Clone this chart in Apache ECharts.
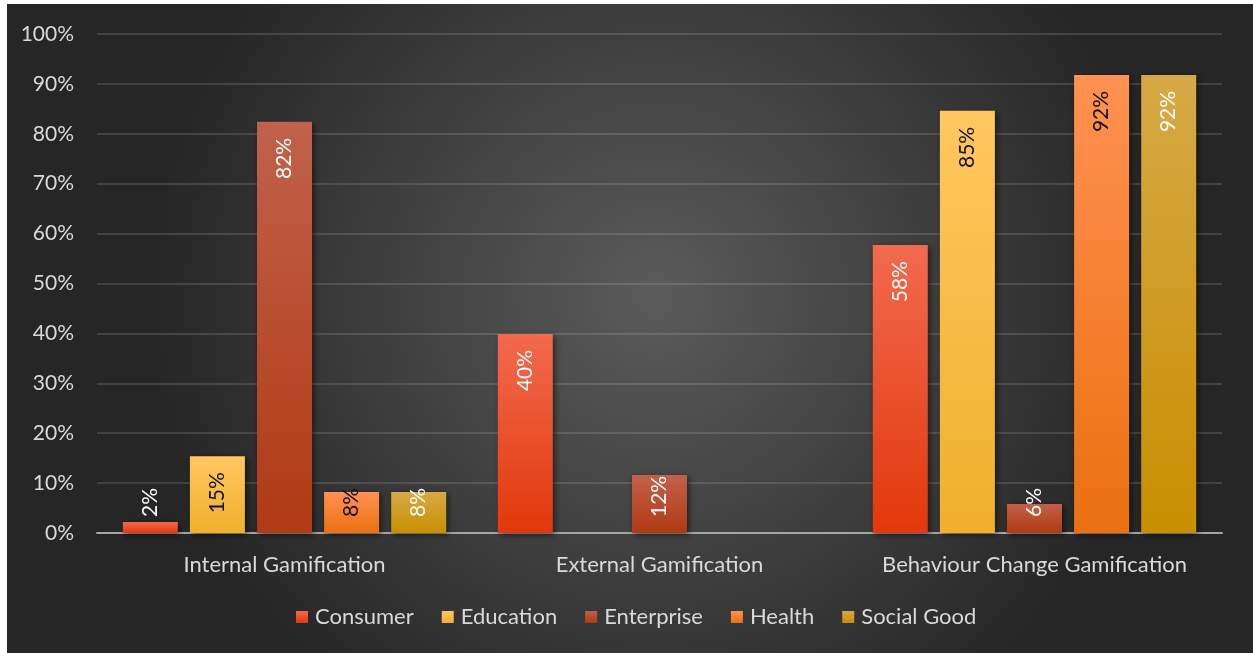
<!DOCTYPE html>
<html>
<head>
<meta charset="utf-8">
<script src="https://cdn.jsdelivr.net/npm/echarts@6/dist/echarts.min.js"></script>
<style>
html,body{margin:0;padding:0;background:#fff;width:1253px;height:653px;overflow:hidden;}
#c{position:absolute;left:7px;top:4px;width:1246px;height:649px;}
</style>
</head>
<body>
<div id="c"></div>
<script>
const categories = ['Internal Gamification', 'External Gamification', 'Behaviour Change Gamification'];
const seriesNames = ['Consumer', 'Education', 'Enterprise', 'Health', 'Social Good'];
const consumer   = [2.2, 39.9, 57.7];
const education  = [15.4, null, 84.6];
const enterprise = [82.4, 11.6, 5.8];
const health     = [8.2, null, 91.8];
const socialGood = [8.2, null, 91.8];
const yTicks = [0, 10, 20, 30, 40, 50, 60, 70, 80, 90, 100];

const values = [consumer, education, enterprise, health, socialGood];
const gradients = [
  ['#f26a4f', '#e2380b'],
  ['#ffc760', '#f0b02c'],
  ['#c1614b', '#b13913'],
  ['#ff9152', '#ec7010'],
  ['#d7a946', '#c88f00']
];
const labelColors = ['#ffffff', '#111111', '#ffffff', '#111111', '#ffffff'];
const FONT = 'Lato';

function grad(c) {
  return new echarts.graphic.LinearGradient(0, 0, 0, 1, [
    {offset: 0, color: c[0]}, {offset: 1, color: c[1]}
  ]);
}

const series = seriesNames.map((name, i) => ({
  name: name,
  type: 'bar',
  barWidth: 55,
  barGap: '22%',
  itemStyle: {
    color: grad(gradients[i]),
    shadowBlur: 6,
    shadowColor: 'rgba(0,0,0,0.55)',
    shadowOffsetX: 2,
    shadowOffsetY: 2
  },
  data: values[i].map(v => {
    if (v === null) return {value: null, label: {show: false}};
    const small = v < 13;
    return {
      value: v,
      label: small
        ? {position: 'insideBottom', distance: 16, align: 'left', verticalAlign: 'middle'}
        : {position: 'insideTop', distance: 16, align: 'right', verticalAlign: 'middle'}
    };
  }),
  label: {
    show: true,
    rotate: 90,
    color: labelColors[i],
    fontFamily: FONT,
    fontSize: 21,
    formatter: p => Math.round(p.value) + '%'
  }
}));

const chart = echarts.init(document.getElementById('c'), null, {renderer: 'canvas'});
chart.setOption({
  backgroundColor: new echarts.graphic.RadialGradient(0.52, 0.45, 0.78, [
    {offset: 0, color: '#5b5b5b'},
    {offset: 1, color: '#262626'}
  ]),
  animation: false,
  textStyle: {fontFamily: FONT},
  grid: {left: 90, right: 31, top: 30, bottom: 120, containLabel: false},
  legend: {
    data: seriesNames,
    bottom: 20,
    left: 284,
    itemWidth: 12,
    itemHeight: 12,
    itemGap: 28,
    icon: 'rect',
    textStyle: {color: '#d9d9d9', fontSize: 22, fontFamily: FONT, padding: [0, 0, 0, 2]}
  },
  xAxis: {
    type: 'category',
    data: categories,
    axisTick: {show: false},
    axisLine: {lineStyle: {color: '#a6a6a6', width: 2}},
    axisLabel: {color: '#d9d9d9', fontSize: 22, fontFamily: FONT, margin: 21, interval: 0, hideOverlap: false}
  },
  yAxis: {
    type: 'value',
    min: yTicks[0],
    max: yTicks[yTicks.length - 1],
    interval: 10,
    axisLine: {show: false},
    axisTick: {show: false},
    splitLine: {lineStyle: {color: 'rgba(255,255,255,0.13)', width: 2}},
    axisLabel: {color: '#d9d9d9', fontSize: 21, fontFamily: FONT, margin: 23, formatter: v => v + '%'}
  },
  series: series
});
</script>
</body>
</html>
